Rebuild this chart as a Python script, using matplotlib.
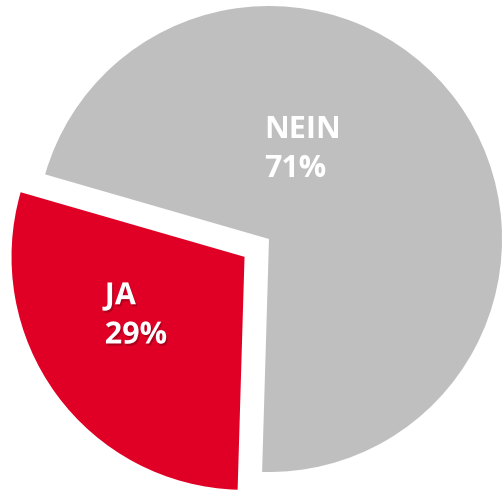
import matplotlib.pyplot as plt
import matplotlib.patheffects as pe

labels = ['JA', 'NEIN']
shares = [29, 71]
colors = ['#E00025', '#BFBFBF']

fig = plt.figure(figsize=(5.03, 4.90), dpi=100)
ax = fig.add_axes([0, 0, 1, 1])

wedges, _ = ax.pie(shares, colors=colors, startangle=-91.7, counterclock=False,
                   explode=[0.13, 0], radius=1.0,
                   wedgeprops=dict(linewidth=0))

# labels placed inside each slice, left aligned like the original
font = dict(family=['Open Sans', 'DejaVu Sans'], weight='bold', color='white',
            fontsize=22, ha='left', va='center', linespacing=1.4)
shadow = [pe.SimplePatchShadow(offset=(1, -1.5), shadow_rgbFace='#7a0015', alpha=0.5), pe.Normal()]
ax.text(-0.705, -0.33, f'{labels[0]}\n{shares[0]}%', path_effects=shadow, **font)
ax.text(-0.02, 0.385, f'{labels[1]}\n{shares[1]}%', **font)

ax.set_xlim(-269 / 233, (503 - 269) / 233)
ax.set_ylim(-251 / 233, 239 / 233)
ax.axis('off')

fig.savefig('out.png', dpi=100)
